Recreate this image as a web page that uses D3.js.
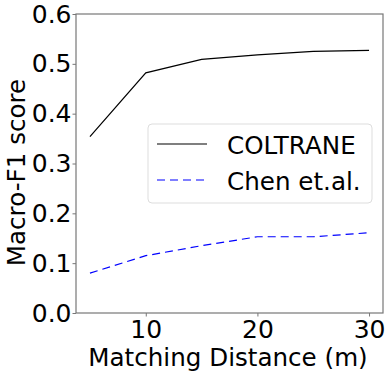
<!DOCTYPE html>
<html>
<head>
<meta charset="utf-8">
<script src="https://cdn.jsdelivr.net/npm/d3@7"></script>
<style>
  body { margin: 0; background: #fff; }
  text { font-family: "DejaVu Sans", sans-serif; }
</style>
</head>
<body>
<div id="chart"></div>
<script>
// data
const distances = [5, 10, 15, 20, 25, 30];
const coltrane = [0.354, 0.482, 0.509, 0.518, 0.525, 0.527];
const chen = [0.080, 0.115, 0.135, 0.153, 0.153, 0.161];
const seriesNames = ['COLTRANE', 'Chen et.al.'];
const xTicks = [10, 20, 30];
const yTicks = [0, 0.1, 0.2, 0.3, 0.4, 0.5, 0.6];

const FIGURE = { WIDTH: 391, HEIGHT: 374 };
const MARGINS = { LEFT: 76, TOP: 14, RIGHT: 8, BOTTOM: 61 };
const PLOT = {
    WIDTH: FIGURE.WIDTH - MARGINS.LEFT - MARGINS.RIGHT,
    HEIGHT: FIGURE.HEIGHT - MARGINS.TOP - MARGINS.BOTTOM
};

const x = d3.scaleLinear().domain([3.75, 31.25]).range([0, PLOT.WIDTH]);
const y = d3.scaleLinear().domain([0, 0.6]).range([PLOT.HEIGHT, 0]);

const svg = d3.select('#chart').append('svg')
    .attr('width', FIGURE.WIDTH)
    .attr('height', FIGURE.HEIGHT);

const plot = svg.append('g')
    .attr('transform', `translate(${MARGINS.LEFT}, ${MARGINS.TOP})`);

const xAxis = plot.append('g')
    .attr('transform', `translate(0, ${PLOT.HEIGHT})`)
    .call(d3.axisBottom(x).tickValues(xTicks).tickSize(3.5).tickPadding(3.5));

const yAxis = plot.append('g')
    .call(d3.axisLeft(y).tickValues(yTicks).tickFormat(d3.format('.1f')).tickSize(3.5).tickPadding(1));

[xAxis, yAxis].forEach(a => {
    a.select('.domain').remove();
    a.selectAll('.tick line').attr('stroke', '#777').attr('stroke-width', 1);
    a.selectAll('.tick text').attr('fill', '#000').style('font-size', '25px');
});

// frame
plot.append('rect')
    .attr('width', PLOT.WIDTH)
    .attr('height', PLOT.HEIGHT)
    .attr('fill', 'none')
    .attr('stroke', '#777')
    .attr('stroke-width', 1.2);

const line = d3.line()
    .x((d, i) => x(distances[i]))
    .y(d => y(d));

plot.append('path')
    .datum(coltrane)
    .attr('d', line)
    .attr('fill', 'none')
    .attr('stroke', '#000')
    .attr('stroke-width', 1.2);

plot.append('path')
    .datum(chen)
    .attr('d', line)
    .attr('fill', 'none')
    .attr('stroke', '#0000ff')
    .attr('stroke-width', 1.2)
    .attr('stroke-dasharray', '8,5');

// legend
const legend = plot.append('g')
    .attr('transform', `translate(${148 - MARGINS.LEFT}, ${124 - MARGINS.TOP})`);

legend.append('rect')
    .attr('width', 224)
    .attr('height', 79)
    .attr('rx', 4)
    .attr('fill', '#fff')
    .attr('fill-opacity', 0.8)
    .attr('stroke', '#ddd');

const styles = [
    { stroke: '#000', dash: null },
    { stroke: '#0000ff', dash: '8,5' }
];

seriesNames.forEach((name, i) => {
    const yy = 20 + i * 36;
    legend.append('line')
        .attr('x1', 9).attr('x2', 59)
        .attr('y1', yy).attr('y2', yy)
        .attr('stroke', styles[i].stroke)
        .attr('stroke-width', 1.2)
        .attr('stroke-dasharray', styles[i].dash);
    legend.append('text')
        .attr('x', 79)
        .attr('y', yy + 9.5)
        .style('font-size', '24.6px')
        .text(name);
});

// axis labels
svg.append('text')
    .attr('x', 228)
    .attr('y', 366)
    .attr('text-anchor', 'middle')
    .style('font-size', '24.6px')
    .text('Matching Distance (m)');

svg.append('text')
    .attr('transform', `translate(24.5, 172.5) rotate(-90)`)
    .attr('text-anchor', 'middle')
    .style('font-size', '24.6px')
    .text('Macro-F1 score');
</script>
</body>
</html>
